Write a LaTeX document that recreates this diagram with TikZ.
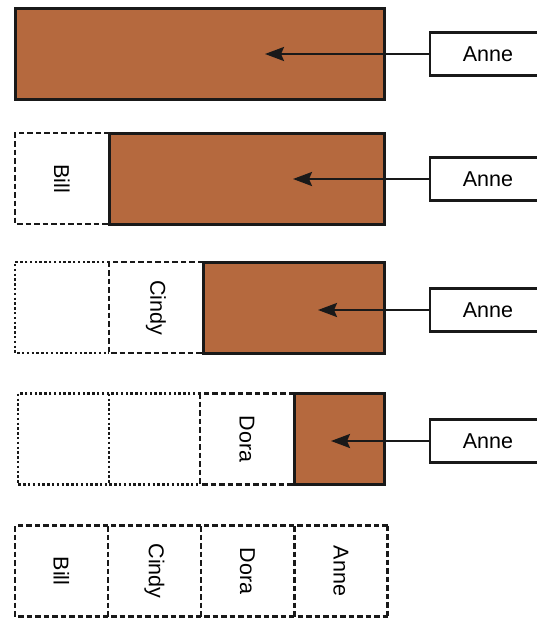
\documentclass[tikz,border=0pt]{standalone}
\usepackage{fontspec}
\setmainfont{Liberation Sans}
\usetikzlibrary{arrows.meta,positioning}
\definecolor{heapbrown}{RGB}{181,105,62}
\tikzset{
 blk slot/.style={minimum height=91pt,minimum width=94pt,inner sep=0pt,outer sep=0pt,
                  font=\fontsize{21.5}{24}\selectfont},
 blk line/.style={draw=black!90,line width=2.6pt},
 blk used/.style={blk line,dash pattern=on 5.5pt off 3pt},
 blk freed/.style={blk line,dash pattern=on 2.4pt off 2.4pt},
 blk heap/.style={blk slot,blk line,fill=heapbrown,line width=3pt},
 blk name/.style={draw=black!90,line width=2.4pt,minimum width=116pt,minimum height=43pt,
                  inner sep=0pt,font=\fontsize{21.5}{24}\selectfont},
 blk ptr/.style={line width=2.4pt,draw=black!90,-{Stealth[length=19pt,width=14pt,inset=3pt]}}
}
% top, left and bottom side of a cell; the next cell closes it
\newcommand\blkopen[2]{\draw[#1] (#2.north east) -- (#2.north west) -- (#2.south west) -- (#2.south east);}
\begin{document}
\begin{tikzpicture}[x=1pt,y=-1pt]
 \useasboundingbox (0,0) rectangle (537,619);
 % row 1: Anne only
 \node[blk heap,minimum width=369pt] (h1) at (199.5,53.5) {};
 \node[blk name] (n1) at (488,54) {Anne};
 \coordinate (t1) at (265,54);
 \draw[blk ptr] (n1.west) -- (t1);
 % row 2
 \node[blk slot] (b2) at (62,178.5) {\rotatebox{-90}{Bill}};
 \blkopen{blk used}{b2}
 \node[blk heap,minimum width=275pt] (h2) at (246.5,178.5) {};
 \node[blk name] (n2) at (488,179) {Anne};
 \coordinate (t2) at (293,179);
 \draw[blk ptr] (n2.west) -- (t2);
 % row 3
 \node[blk slot] (f3) at (62,307.5) {};
 \node[blk slot] (c3) at (156,307.5) {\rotatebox{-90}{Cindy}};
 \blkopen{blk freed}{f3}
 \blkopen{blk used}{c3}
 \node[blk heap,minimum width=181pt] (h3) at (293.5,307.5) {};
 \node[blk name] (n3) at (488,310) {Anne};
 \coordinate (t3) at (318,310);
 \draw[blk ptr] (n3.west) -- (t3);
 % row 4
 \node[blk slot,minimum width=91pt] (f4a) at (63.5,439) {};
 \node[blk slot,minimum width=91pt] (f4b) at (154.5,439) {};
 \node[blk slot] (d4) at (247,439) {\rotatebox{-90}{Dora}};
 \blkopen{blk freed}{f4a}
 \blkopen{blk freed}{f4b}
 \blkopen{blk used}{d4}
 \node[blk heap,minimum width=90pt] (h4) at (339,439) {};
 \node[blk name] (n4) at (488,441) {Anne};
 \coordinate (t4) at (331,441);
 \draw[blk ptr] (n4.west) -- (t4);
 % row 5: all four
 \foreach \nm/\x/\txt in {b5/61.5/Bill,c5/154.5/Cindy,d5/247.5/Dora,a5/341/Anne}{
   \node[blk slot,minimum width=93pt] (\nm) at (\x,571) {\rotatebox{-90}{\txt}};
   \blkopen{blk used}{\nm}
 }
 \draw[blk used] (a5.north east) -- (a5.south east);
\end{tikzpicture}
\end{document}
